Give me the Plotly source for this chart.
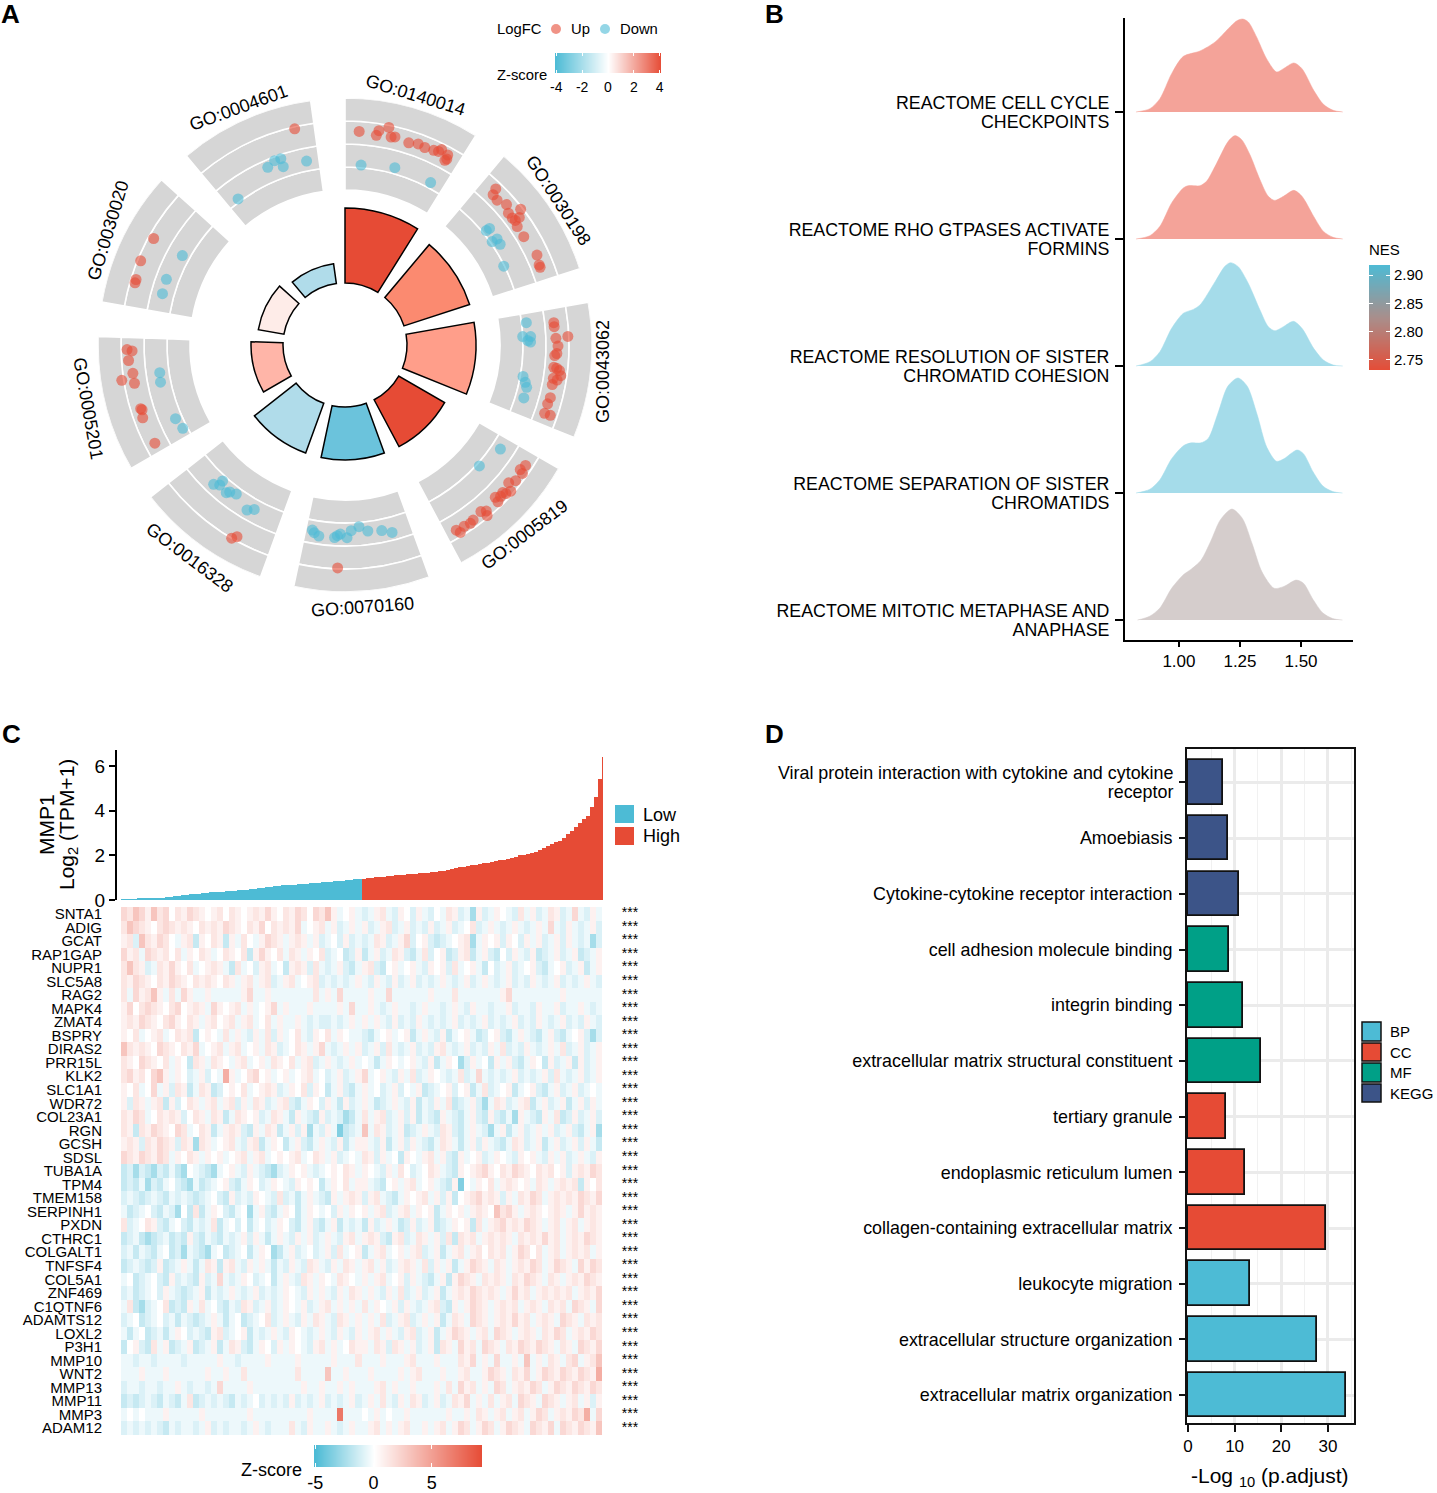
import plotly.graph_objects as go

W, H = 1437, 1493
FONT = "Liberation Sans"
NPG_BLUE, NPG_RED, NPG_GREEN, NPG_NAVY = "#4DBBD5", "#E64B35", "#00A087", "#3C5488"
CX, CY = 345, 345

# ---- panel A data
GO_TERMS = ["GO:0140014","GO:0030198","GO:0043062","GO:0005819","GO:0070160","GO:0016328","GO:0005201","GO:0030020","GO:0004601"]
GO_THETA = [16,56,96,136,176,216,256,296,336]
GO_HEIGHT = [75,69,69,53,53,53,32,26,20]
GO_COLOR = ["#E64B35","#FB8A70","#FF9E8A","#E64B35","#6BC3DC","#B0DCEA","#FFB5A8","#FEECE8","#B0DCEA"]
UP_THETA = [3.8,8.5,9.0,11.4,12.5,13.5,17.5,20.0,22.0,24.5,25.8,26.3,28.4,28.4,28.7,44.0,44.6,46.4,49.0,52.3,51.1,53.8,52.8,53.8,55.5,58.8,64.9,67.6,68.3,346.9,299.1,292.4,287.4,286.5,83.9,85.0,87.8,88.2,90.3,92.3,92.9,96.1,96.3,96.8,98.1,99.1,99.4,100.8,104.4,106.2,108.9,108.9,123.7,125.4,125.9,128.5,130.1,131.4,133.1,132.7,135.4,135.7,134.2,139.6,140.8,140.2,143.8,144.9,146.7,149.0,148.4,181.9,210.4,209.4,268.8,268.4,265.9,262.4,261.0,259.7,252.7,252.3,250.2,242.7]
UP_R = [214,212,217,222,213,214,212,214,213,214,215,218,216,210,212,217,211,210,214,222,210,216,210,211,209,209,212,210,210,222,219,221,219,219,210,210,223,211,213,212,210,210,213,216,218,211,215,211,212,211,211,217,217,215,219,218,214,221,216,219,214,219,217,218,215,222,217,218,217,216,220,223,224,220,218,213,217,214,226,214,214,213,215,214]
DOWN_THETA = [5.1,15.7,27.8,51.1,51.0,55.1,54.9,57.0,63.6,341.0,339.1,336.5,340.9,348.2,323.8,298.8,290.2,285.7,83.0,87.3,87.4,88.6,89.1,100.0,101.7,103.1,106.5,123.8,132.0,190.0,189.3,187.8,183.1,181.4,182.3,179.4,178.1,175.6,173.0,168.8,165.9,222.0,223.3,221.8,218.8,218.1,216.1,210.7,208.9,261.5,258.6,246.5,242.8]
DOWN_R = [180.7,184.2,183.6,185.7,181.8,185.4,179.9,185.0,177.2,197.1,197.3,193.7,188.7,187.9,181.0,185.6,190.3,189.6,182.7,177.9,185.8,182.8,185.6,180.8,184.1,186.5,186.5,187.0,180.8,187.9,190.2,192.8,192.9,189.1,190.8,192.7,185.8,182.2,187.4,189.2,193.2,183.0,191.5,187.9,189.5,186.8,184.5,191.9,187.8,187.3,188.2,184.8,182.4]

# ---- panel B data
RIDGE_LINE1 = ["REACTOME MITOTIC METAPHASE AND","REACTOME SEPARATION OF SISTER","REACTOME RESOLUTION OF SISTER","REACTOME RHO GTPASES ACTIVATE","REACTOME CELL CYCLE"]
RIDGE_LINE2 = ["ANAPHASE","CHROMATIDS","CHROMATID COHESION","FORMINS","CHECKPOINTS"]
RIDGE_COLOR = ["#D5CDCC","#A5DCEA","#A5DCEA","#F4A399","#F4A399"]
R5_X = [.83,.88,.922,.97,1.02,1.05,1.09,1.13,1.17,1.217,1.26,1.30,1.34,1.39,1.43,1.48,1.51,1.55,1.59,1.63,1.67]
R5_H = [0,.03,.095,.25,.36,.40,.47,.62,.79,.874,.80,.60,.38,.25,.265,.315,.29,.16,.055,.012,0]
R4_X = [.824,.881,.922,.97,1.02,1.05,1.09,1.12,1.16,1.20,1.242,1.28,1.32,1.36,1.40,1.43,1.484,1.51,1.55,1.59,1.63,1.67]
R4_H = [0,.03,.105,.27,.375,.395,.395,.43,.63,.84,.906,.84,.62,.36,.25,.27,.339,.31,.165,.055,.012,0]
R3_X = [.824,.881,.922,.97,1.018,1.059,1.086,1.148,1.189,1.212,1.243,1.284,1.332,1.366,1.393,1.428,1.469,1.504,1.552,1.592,1.632,1.671]
R3_H = [0,.034,.113,.297,.415,.446,.48,.664,.787,.814,.782,.651,.441,.31,.278,.31,.352,.297,.139,.047,.008,0]
R2_X = [.824,.881,.922,.97,1.018,1.038,1.086,1.113,1.148,1.202,1.23,1.257,1.291,1.332,1.366,1.393,1.428,1.471,1.504,1.552,1.592,1.632,1.671]
R2_H = [0,.026,.1,.284,.402,.42,.42,.454,.572,.769,.814,.782,.663,.467,.336,.304,.336,.383,.336,.178,.06,.013,0]
R1_X = [.824,.881,.922,.97,1.018,1.086,1.148,1.202,1.236,1.261,1.284,1.318,1.359,1.4,1.428,1.471,1.504,1.552,1.592,1.632,1.671]
R1_H = [0,.026,.105,.302,.438,.48,.551,.656,.717,.732,.709,.591,.42,.315,.341,.386,.341,.171,.06,.013,0]
RIDGES = [(R5_X,R5_H),(R4_X,R4_H),(R3_X,R3_H),(R2_X,R2_H),(R1_X,R1_H)]
NES_STEPS = [2.73,2.75,2.80,2.85,2.90,2.92]

# ---- panel C data
LOW_VALUES = [.03,.03,.04,.04,.05,.06,.07,.08,.09,.10,.11,.13,.14,.16,.18,.21,.23,.25,.27,.29,.30,.32,.34,.36,.37,.38,.39,.40,.42,.43,.45,.47,.49,.51,.53,.55,.57,.59,.61,.63,.65,.67,.68,.69,.70,.72,.73,.75,.76,.77,.79,.80,.81,.83,.85,.87,.89,.91,.93,.95]
HIGH_VALUES = [.96,.98,.99,1.01,1.03,1.05,1.06,1.08,1.10,1.11,1.13,1.15,1.17,1.18,1.20,1.21,1.23,1.25,1.27,1.29,1.30,1.36,1.40,1.43,1.46,1.49,1.52,1.55,1.58,1.61,1.64,1.68,1.71,1.74,1.77,1.80,1.83,1.86,1.93,2.0,2.03,2.07,2.11,2.17,2.24,2.32,2.42,2.52,2.58,2.65,2.80,2.95,3.10,3.28,3.45,3.62,3.75,4.15,4.60,5.40,6.40]
GENES = ["SNTA1","ADIG","GCAT","RAP1GAP","NUPR1","SLC5A8","RAG2","MAPK4","ZMAT4","BSPRY","DIRAS2","PRR15L","KLK2","SLC1A1","WDR72","COL23A1","RGN","GCSH","SDSL","TUBA1A","TPM4","TMEM158","SERPINH1","PXDN","CTHRC1","COLGALT1","TNFSF4","COL5A1","ZNF469","C1QTNF6","ADAMTS12","LOXL2","P3H1","MMP10","WNT2","MMP13","MMP11","MMP3","ADAM12"]
LEVEL = {"A":-3.5,"B":-2.5,"C":-1.6,"D":-1.0,"E":-.5,".":0,"f":.7,"g":1.3,"h":2.0,"i":3.0,"j":4.2,"k":7.0}
HEAT_ROWS = [
"hgihfigh.gfhgf.fg.gf.fgfhf.gfhg.hgifE.fE"+"DEfgEDf.DfED.EgfDEBfDEf.EDgEfDEgfDEhEDfE",
"gihgf.ghgfgf.gfgfhgf.gfh.gfgfhE.fgEfDEfE"+"fDEfgDEfDEDfDEfDE.gDEfEDEfEDEfEhEDfEDEfD",
"fgDigfhg.EfgCf.gfCfEg.EfhgfEfgfEfDE.DfDE"+"DEgfDEfhD.fDCDE.fgBEf.fDf.DfEfDEfDfEDEBD",
"hfgEhgfg.gEf.gfE.gf.gCfhf.gEgfEf.gDE.CDf"+"CEfDEgfDCEgD.fCDfgCEfDC.DfEDfCDEfDEfCDEf",
"gigfDEgfhf.gE.fgfECgE.DfgE.CfgfDgEDEfDCE"+"fgDC.fE.fEDf.fDgE.fEC.DEfDE.fDCE.fDEfCEf",
"gfhgf.gfhgf.gfgf.gfEfgEfgDEfgE.fgDEDEDEf"+"EDfEDfDEfDEDEfEDEfDEfEDEfDEDfEDEfDEDEfED",
"gEhfgifEgEhfEEfEEEEEfhEEfEEEEEEEgEfEhEEE"+"EfEEhEEEEEEfEEEgEEEEEEEfhEEEEEEEEfEEEEEE",
"fh.ghgf.gh.fgfEhf.fgEfE.fhEfEEEfEEEEfEhE"+"EfEDEfEEDEfEEDEfEDfEEDEEfDEEDfEEfDEEfEDE",
"fgfhgf.ghf.gfEfg.fgEfgE.gEfEEfEDEDDEDEfE"+"fEfEDfDEDfEDEDEfDEDEfDEDEfDEDfEDEfDEDfED",
"f.gE.fgE.gfgC.f.EgEfEDfEgDfE.gEDf.gEf.EE"+"DCE.fE.fCEfEDfCE.fECD.fDCEfEDCEfDCE.fDBD",
"igfgf.hgf.gfhE.fgEfgE.fEgfDE.gfEfhEDEfEf"+"DEfDgEDEfDEDfgEDEfDEDfEgDEDfEDEfEgDEfDEf",
"gf.hgf.gEf.CgfEgf.EfgE.fEgf.gEfgDEfEDEfE"+".ECEf.E.fEDfCEf.BDfE.CfEfDCEf.CfDEfCfDEf",
"ghfg.hifEf.DEfD.EjfE.gh.fE.fE.fgE.DEfDEf"+"hE.fEDfEgDEf.EDEgDEhEDEDEfDEDEfDgEDEfDEf",
"f.gE.hEfDgfCEgfCD.f.gE.fgfDEf.gDf.CEfDCE"+"fE.DEfD.EfCDE.fD.fCEgDE.fCE.fDCEfDEfDE.E",
"fDgfEfgCfD.gfEfgEfgDfEgfDEfgDCEf.DfECfDE"+"fECDEfEDfCEDfEgCDEfDBEgfDEfgCEfDEfCEfDfE",
"gfhgE.gfgfD.gfEgfCEgf.fDEgfECfEDCfDEDBCE"+"gEfgDEfDfCEDCfEDCEfDCfDCEBfEDCfEgCDfDEfD",
"gfCgfhgf.hgE.gfCEfgfDCfEgfCEfDfBEDfEACDE"+"iEgfDEfCDEfEDgfDCEfEDBEfCEfDEfEfDEfDCEfB",
"fgfDgfhgfDgfBgfE.fgEDfgCEf.CEfDCEfEDfCEf"+"fEDfCEfDfEDCEgfECEfDfEDCEgfDEfCEfDEfDfEC",
"hgfhgfhgEf.gfEf.fE.fgEfgE.f.fgE.gfEfDE.E"+"gfDfE.Cf.EfgEfDCfE.fDEf.EDf.fEDfEfDEfEDf",
"CDBDCBDCECB.EDCBE.fEDfEDCBDEf.fEDE.f.gfE"+"f.EDfEg.DE.gfEDCf.fghf.gfhgf.gfg.fDfgfhg",
"CDCEBDCE.DCBECDE.fDCEf.DEf.EDf.f.CEf.gEf"+"fEDC.fEfgE.fEDCfA.Ef.gEfgf.fEgfEfgfgCf.g",
"DEDCDEDCEDEDCDE.DCfDEDf.EDgDECEfEDCfEfgf"+"DfgEDCEf.fgEfDfC.fghfgfDfEgfhgEfgfgfhgfh",
"ECDE.DCEDB.CgCEf.DCE.BEfDCEf.CEf.E.DfEf."+"fEfgDEfgEf.fCEf.fEfgf.ighfEfgf.fgfEfhfgf",
"gDE.gfDCE.DCEDEgCE.D.CE.DEf.DCEfDCEfCEDE"+"CfDEfECDfDEfCDEf.fCgEfghfgfhgfEfgEfgEfgf",
"CDECBCDECDCfDCEDCEDEfDfECEfEDfEfDEfEDfgE"+"fgfDCfgDEgfEfDgCgfgEfgfgfEgfgfhfgEfgfhgf",
"DECEDCE.CDBEDCBE.CDE.CEf.BCEfDE.DEfDgE.f"+"CEfgE.fEfgDEfCEfgEfg.gfgEfhg.gEfgEfgfgEf",
"CDEDCDfCDEfECEgfCfgEDfEfECEDfEDgfEDfEgfE"+"fgEfDEfgfEgDfEfCEfhgfEgfEfgfhgEfhgfEhfhg",
"E.CDE.DCfDEDCfDEhEDEf.DE.CEfEDgfEf.Egf.E"+"fEfgE.fDfEDCEfCfhgfEgfgfEgfhgfEgfEfgfhgf",
"DECDE.DfEDCDEfCEDEfEDEfDEDEf.EDfEfEDfEgf"+"EfEDfEgDEfDEfCEfgfhgfgfEfhfgEfgfgfgEfgfh",
"EgCBDE.gCDCfEgE.DCEDgfDEfDEf.EfDEfgEfEfE"+"gEf.EfDfEDEfgDCfEfhgfEfgfgEfgfEgfgEhgfEh",
"DE.CDE.DECEDCDEfECE.CDE.gDEfEDfEgfEDgfEf"+"EfEgDEfgDEfEfCEgfEhgfEfgfhfgEfgfEhgfEgfg",
"ECE.CDECEf.DEDCfgDE.fCEDEfEDf.EDEfEDfEDf"+"EfgEfEDfgDEfCEfhgfEfgEhgfEfgfEgfhgEfgfhg",
"C.fDCgEfCDEfCDEfCEgfDCEf.DfEf.EDfgEfE.gf"+"fEgfDgfEfDEfCgfEhfgEhgfEgfhgfhgfEgfEhgfh",
"EEDEEDEEEEDEEEEEfEEDEEEEfEEEEfEEEEEfEEEg"+"EEEfEEEfgEEEfEEEgfhEfEhEEfEiEfEgfEghEfgi",
"EEEfEEEfEEEEEEfEEfEEgEEEEEEEEgEEEEiEEfEE"+"EfEEEEfEfgEEEfEEfgEEfhgfEgfhEfhgfhgfhgfj",
"DEEDEEDEEfEDEEDEhEEEEfEEEEEEEEfEEfEEfEfE"+"EEfgEfEEfEEEfEgEhfgEfEhgEfgfhgEfhgfhgfhg",
"CDCDEDCEDCEgCDEDEDCEDE.DEDEDfDEDEfDEDEfD"+"EfEgEDfEgfDEfDEgfhEfEgEfgEhgfEhgfEfgEfDf",
"E.E.EEEfEEEEEfEEEEEEEfEEEEEEEEEfEEEEkEEE"+".EfE.EEfEEEEEEfEEfEgfEfgEfgEfhgEfgfhgjEh",
"DEDEDEDCEDEEDEfDEDEEDEfEDEEEgEDfEEfEDEfE"+"EfgEfEfgEEfEfgEfhgEfhgEfhgfEhgfhEhgfhgfi",
]
HEAT_N = 80
HEAT_Z = [[LEVEL[c] for c in r.ljust(HEAT_N,".")[:HEAT_N]] for r in HEAT_ROWS]
STARS = ["***"]*len(GENES)

# ---- panel D data
D_TERMS = ["extracellular matrix organization","extracellular structure organization","leukocyte migration","collagen-containing extracellular matrix","endoplasmic reticulum lumen","tertiary granule","extracellular matrix structural constituent","integrin binding","cell adhesion molecule binding","Cytokine-cytokine receptor interaction","Amoebiasis","Viral protein interaction with cytokine and cytokine receptor"]
D_LABELS = D_TERMS[:-1]+[" "]
D_WRAP = ["receptor","Viral protein interaction with cytokine and cytokine"]
D_VALUES = [33.9,27.7,13.3,29.6,12.2,8.2,15.7,11.7,8.7,11.0,8.5,7.5]
D_GROUPS = ["BP","BP","BP","CC","CC","CC","MF","MF","MF","KEGG","KEGG","KEGG"]
D_COLORS = {"BP":NPG_BLUE,"CC":NPG_RED,"MF":NPG_GREEN,"KEGG":NPG_NAVY}

# ---- helpers: picture position -> paper fraction (the photographed page sits slightly inset)
def X(x): return (x-7)/1427
def Y(y): return 1-(y-2)/1480
def dx(a,b): return [X(a),X(b)]
def dy(a,b): return [Y(b),Y(a)]
BLK="#111111"
fig=go.Figure()

# A
fig.add_trace(go.Barpolar(theta=[t for t in GO_THETA for _ in range(4)], base=[b for _ in GO_THETA for b in (155,178,201,224)], r=[23]*36, width=[32]*36,
    marker=dict(color="#D6D6D6",line=dict(color="white",width=1.6)),showlegend=False,subplot="polar"))
fig.add_trace(go.Barpolar(theta=GO_THETA,base=[62]*9,r=GO_HEIGHT,width=[32]*9,marker=dict(color=GO_COLOR,line=dict(color="black",width=1.5)),showlegend=False,subplot="polar"))
fig.add_trace(go.Scatterpolar(theta=UP_THETA,r=UP_R,mode="markers",marker=dict(color=NPG_RED,size=11,opacity=.6),showlegend=False,subplot="polar"))
fig.add_trace(go.Scatterpolar(theta=DOWN_THETA,r=DOWN_R,mode="markers",marker=dict(color=NPG_BLUE,size=11,opacity=.6),showlegend=False,subplot="polar"))

# B
for i,(xs,hs) in enumerate(RIDGES):
    fig.add_trace(go.Scatter(x=xs,y=[i+h for h in hs],mode="lines",line=dict(shape="spline",smoothing=.8,color=RIDGE_COLOR[i],width=0.5),fill="toself",fillcolor=RIDGE_COLOR[i],showlegend=False,xaxis="x",yaxis="y",hoverinfo="skip"))
fig.add_trace(go.Heatmap(x=[0,1],y=NES_STEPS,z=[[v,v] for v in NES_STEPS],zmin=2.73,zmax=2.92,zsmooth="best",showscale=False,colorscale=[[0,NPG_RED],[.5,"#A98E8B"],[1,NPG_BLUE]],xaxis="x2",yaxis="y2"))

# C
LOW_X=list(range(len(LOW_VALUES)))
HIGH_X=list(range(len(LOW_VALUES),len(LOW_VALUES)+len(HIGH_VALUES)))
fig.add_trace(go.Bar(x=LOW_X,y=LOW_VALUES,marker=dict(color=NPG_BLUE,line=dict(width=0)),width=1,showlegend=False,xaxis="x3",yaxis="y3"))
fig.add_trace(go.Bar(x=HIGH_X,y=HIGH_VALUES,marker=dict(color=NPG_RED,line=dict(width=0)),width=1,showlegend=False,xaxis="x3",yaxis="y3"))
ZSCALE=[[0,NPG_BLUE],[5/14.3,"#FFFFFF"],[1,NPG_RED]]
fig.add_trace(go.Heatmap(z=HEAT_Z,y=GENES,zmin=-5,zmax=9.3,colorscale=ZSCALE,showscale=False,xaxis="x4",yaxis="y4"))
fig.add_trace(go.Scatter(x=[0.5]*len(GENES),y=GENES,text=STARS,mode="text",textfont=dict(size=14,color="black",family=FONT),showlegend=False,xaxis="x5",yaxis="y5"))
C_GRAD=[-5.1,-5,-2.5,0,2.5,5,7.5,9.3]
fig.add_trace(go.Heatmap(x=C_GRAD,y=[0,1],z=[C_GRAD,C_GRAD],zmin=-5,zmax=9.3,zsmooth="best",colorscale=ZSCALE,showscale=False,xaxis="x6",yaxis="y6"))

# D
fig.add_trace(go.Bar(x=D_VALUES,y=D_TERMS,orientation="h",width=.8,marker=dict(color=[D_COLORS[g] for g in D_GROUPS],line=dict(color=BLK,width=1.8)),showlegend=False,xaxis="x7",yaxis="y7"))

# A colourbar
A_GRAD=[-4.1,-3,-2,-1,0,1,2,3,4.1]
fig.add_trace(go.Heatmap(x=A_GRAD,y=[0,1],z=[A_GRAD,A_GRAD],zmin=-4.1,zmax=4.1,zsmooth="best",colorscale=[[0,NPG_BLUE],[.5,"#FFFFFF"],[1,NPG_RED]],showscale=False,xaxis="x8",yaxis="y8"))

hidden=dict(visible=False,showgrid=False,zeroline=False)
base_tf=dict(family=FONT,color="black")
RIDGE_TICKS=[]; RIDGE_TEXT=[]
for i in range(5):
    RIDGE_TICKS += [i+.075,i-.075]; RIDGE_TEXT += [RIDGE_LINE1[i],RIDGE_LINE2[i]]
layout=dict(width=W,height=H,margin=dict(l=0,r=0,t=0,b=0),autosize=False,paper_bgcolor="white",plot_bgcolor="rgba(0,0,0,0)",font=dict(family=FONT,color="black"),bargap=0,barmode="overlay",
 polar=dict(domain=dict(x=dx(CX-247,CX+247),y=dy(CY-247,CY+247)),bgcolor="rgba(0,0,0,0)",barmode="overlay",
    radialaxis=dict(range=[0,247],visible=False),angularaxis=dict(direction="clockwise",rotation=90,visible=False)),
 xaxis=dict(domain=dx(1125,1353),range=[.779,1.713],showline=True,linecolor="black",linewidth=2,ticks="outside",ticklen=5,tickwidth=2,tickcolor="black",tickvals=[1.0,1.25,1.5],ticktext=["1.00","1.25","1.50"],tickfont=dict(size=17,**base_tf),showgrid=False,zeroline=False,anchor="y"),
 yaxis=dict(domain=dy(18,640),range=[-.157,4.74],showline=True,linecolor="black",linewidth=2,ticks="outside",ticklen=8,tickwidth=2,tickcolor="black",tickvals=[0,1,2,3,4],showticklabels=False,showgrid=False,zeroline=False,anchor="x"),
 yaxis9=dict(domain=dy(18,640),range=[-.157,4.74],overlaying="y",anchor="x",side="left",tickvals=RIDGE_TICKS,ticktext=RIDGE_TEXT,tickfont=dict(size=17.8,**base_tf),ticks="outside",ticklen=11,tickcolor="rgba(0,0,0,0)",showgrid=False,zeroline=False,showline=False),
 xaxis2=dict(domain=dx(1369,1390),range=[0,1],**hidden,anchor="y2"),
 yaxis2=dict(domain=dy(265,370),range=[2.732,2.918],side="right",anchor="x2",showgrid=False,zeroline=False,ticks="inside",ticklen=4,tickcolor="white",mirror="ticks",tickvals=[2.75,2.80,2.85,2.90],ticktext=["2.75","2.80","2.85","2.90"],tickfont=dict(size=15,**base_tf),ticklabelstandoff=3),
 xaxis3=dict(domain=dx(117,603),range=[-1.5,119.75],**hidden,anchor="y3"),
 yaxis3=dict(domain=dy(750,900),range=[0,6.72],anchor="x3",showline=True,linecolor="black",linewidth=2,ticks="outside",ticklen=6,tickwidth=2,tickcolor="black",tickvals=[0,2,4,6],tickfont=dict(size=19,**base_tf),showgrid=False,zeroline=False),
 xaxis4=dict(domain=dx(121,602),**hidden,anchor="y4"),
 yaxis4=dict(domain=dy(907,1435),type="category",range=[38.5,-.5],tickvals=GENES,ticktext=GENES,ticks="outside",ticklen=15,tickcolor="rgba(0,0,0,0)",tickfont=dict(size=15,**base_tf),showgrid=False,zeroline=False,anchor="x4"),
 xaxis5=dict(domain=dx(610,650),range=[0,1],**hidden,anchor="y5"),
 yaxis5=dict(domain=dy(907,1435),type="category",range=[38.5,-.5],**hidden,anchor="x5"),
 xaxis6=dict(domain=dx(314,482),range=[-5.1,9.3],anchor="y6",showgrid=False,zeroline=False,ticks="inside",ticklen=4,tickcolor="white",mirror="ticks",tickvals=[-5,0,5],ticktext=["-5","0","5"],tickfont=dict(size=18,**base_tf),ticklabelstandoff=3),
 yaxis6=dict(domain=dy(1445,1467),range=[0,1],**hidden,anchor="x6"),
 xaxis7=dict(domain=dx(1187,1354),range=[-.2,35.6],anchor="y7",showline=True,mirror=True,linecolor=BLK,linewidth=2,ticks="outside",ticklen=7,tickwidth=2,tickcolor=BLK,tickvals=[0,10,20,30],tickfont=dict(size=17,**base_tf),showgrid=True,gridcolor="#EBEBEB",gridwidth=2.5,zeroline=False,minor=dict(tickvals=[5,15,25,35],showgrid=True,gridcolor="#F1F1F1",gridwidth=1.3)),
 yaxis7=dict(domain=dy(749,1423),type="category",categoryorder="array",categoryarray=D_TERMS,range=[-.5,11.6],anchor="x7",showline=True,mirror=True,linecolor=BLK,linewidth=2,ticks="outside",ticklen=6,tickwidth=2,tickcolor=BLK,tickvals=D_TERMS,ticktext=D_LABELS,tickfont=dict(size=17.9,**base_tf),showgrid=True,gridcolor="#EBEBEB",gridwidth=2.5,zeroline=False,ticklabelstandoff=3),
 yaxis10=dict(domain=dy(749,1423),range=[-.5,11.6],overlaying="y7",anchor="x7",side="left",tickvals=[10.83,11.17],ticktext=D_WRAP,tickfont=dict(size=17.9,**base_tf),ticks="outside",ticklen=6,tickcolor="rgba(0,0,0,0)",showgrid=False,zeroline=False,showline=False,ticklabelstandoff=3),
 xaxis8=dict(domain=dx(555,661),range=[-4.1,4.1],anchor="y8",showgrid=False,zeroline=False,ticks="inside",ticklen=3,tickcolor="white",mirror="ticks",tickvals=[-4,-2,0,2,4],ticktext=["-4","-2","0","2","4"],tickfont=dict(size=14,**base_tf),ticklabelstandoff=4),
 yaxis8=dict(domain=dy(53,73),range=[0,1],**hidden,anchor="x8"),
)
# invisible carriers so the two overlay axes are drawn
fig.add_trace(go.Scatter(x=[],y=[],yaxis="y9",xaxis="x",showlegend=False))
fig.add_trace(go.Scatter(x=[],y=[],yaxis="y10",xaxis="x7",showlegend=False))
anns=[];shapes=[]
def T(txt,x,y,size=15,anchor="center",angle=0,bold=False,valign="middle"):
    anns.append(dict(text=("<b>%s</b>"%txt if bold else txt),x=X(x),y=Y(y),xref="paper",yref="paper",xanchor=anchor,yanchor=valign,showarrow=False,textangle=angle,font=dict(family=FONT,size=size,color="black")))
for s,x,y in [("A",10,14),("B",774,14),("C",11,734),("D",774,734)]:
    T(s,x,y,size=26,bold=True)
for t,x,y,a in zip(GO_TERMS,[415,558,603,524,362,190,88,108,238],[95,200,372,535,607,558,408,231,108],[17,57,-90,-37,-4,37,80,-73,-20]):
    T(t,x,y,size=18,angle=a)
T("LogFC",495,29,14.8,"left");T("Up",569,29,14.8,"left");T("Down",618,29,14.8,"left");T("Z-score",495,75,14.8,"left")
for x,c in [(556,NPG_RED),(605,NPG_BLUE)]:
    shapes.append(dict(type="circle",xref="paper",yref="paper",x0=X(x-5),x1=X(x+5),y0=Y(34),y1=Y(24),fillcolor=c,opacity=.6,line=dict(width=0)))
T("NES",1367,249,15,"left")
T("MMP1",46,825,21,angle=-90)
T("Log<sub>2</sub> (TPM+1)",68,825,21,angle=-90)
T("Low",641,815,18,"left");T("High",641,836,18,"left")
for y0,y1,c in [(805,823,NPG_BLUE),(827,845,NPG_RED)]:
    shapes.append(dict(type="rect",xref="paper",yref="paper",x0=X(615),x1=X(634),y0=Y(y1),y1=Y(y0),fillcolor=c,line=dict(width=0)))
T("Z-score",271,1470,18)
T("-Log <sub>10</sub> (p.adjust)",1270,1477,21)
for (y0,y1,c,l) in [(1022,1041,NPG_BLUE,"BP"),(1043,1061,NPG_RED,"CC"),(1063,1082,NPG_GREEN,"MF"),(1084,1102,NPG_NAVY,"KEGG")]:
    shapes.append(dict(type="rect",xref="paper",yref="paper",x0=X(1362),x1=X(1381),y0=Y(y1),y1=Y(y0),fillcolor=c,line=dict(color=BLK,width=1.5)))
    T(l,1388,(y0+y1)/2,15,"left")
layout["annotations"]=anns;layout["shapes"]=shapes
fig.update_layout(**layout)
fig.write_html("out.html",post_script="document.body.style.margin='0';",config=dict(displayModeBar=False))
